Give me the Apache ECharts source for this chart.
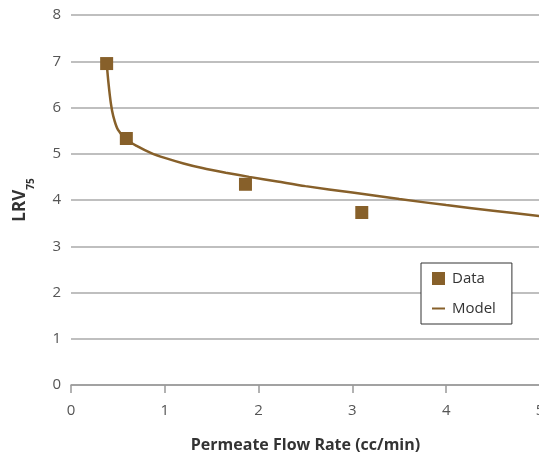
<!DOCTYPE html>
<html>
<head>
<meta charset="utf-8">
<script src="https://cdn.jsdelivr.net/npm/echarts@6/dist/echarts.min.js"></script>
<style>
  html, body { margin: 0; padding: 0; background: #ffffff; }
  #chart { width: 539px; height: 456px; }
</style>
</head>
<body>
<div id="chart"></div>
<script>
// Measured log reduction values against permeate flow rate
const dataFlow = [0.38, 0.59, 1.86, 3.10];
const dataLRV = [6.95, 5.33, 4.34, 3.73];

// Fitted model curve
const modelFlow = [0.38, 0.40, 0.425, 0.45, 0.50, 0.59, 0.70, 0.85, 1.0, 1.2, 1.4, 1.65, 1.9, 2.2, 2.5, 3.0, 3.5, 4.0, 4.5, 5.0];
const modelLRV = [6.97, 6.52, 6.09, 5.82, 5.52, 5.31, 5.17, 5.02, 4.91, 4.79, 4.69, 4.59, 4.50, 4.40, 4.30, 4.16, 4.02, 3.89, 3.77, 3.65];

const xTicks = [0, 1, 2, 3, 4, 5];
const yTicks = [0, 1, 2, 3, 4, 5, 6, 7, 8];

const brown = '#87602a';
const font = '"Open Sans", "Noto Sans", sans-serif';

const zip = (xs, ys) => xs.map((x, i) => [x, ys[i]]);

const chart = echarts.init(document.getElementById('chart'), null, { renderer: 'canvas' });
chart.setOption({
  animation: false,
  backgroundColor: '#ffffff',
  grid: { left: 71, top: 15, width: 469, height: 370, containLabel: false, outerBoundsMode: 'none' },
  xAxis: {
    type: 'value',
    min: xTicks[0],
    max: xTicks[xTicks.length - 1],
    interval: 1,
    name: 'Permeate Flow Rate (cc/min)',
    nameLocation: 'middle',
    nameGap: 52,
    nameTextStyle: { fontFamily: font, fontSize: 16, fontWeight: 'bold', color: '#333' },
    axisLine: { show: true, lineStyle: { color: '#999', width: 1.5 } },
    axisTick: { show: true, length: 8, lineStyle: { color: '#999', width: 1.5 } },
    axisLabel: { margin: 18, fontFamily: font, fontSize: 15, color: '#555' },
    splitLine: { show: false }
  },
  yAxis: {
    type: 'value',
    min: yTicks[0],
    max: yTicks[yTicks.length - 1],
    interval: 1,
    name: '{a|LRV}{b|75}',
    nameLocation: 'middle',
    nameRotate: 90,
    nameGap: 21,
    nameMoveOverlap: false,
    nameTextStyle: {
      rich: {
        a: { fontFamily: font, fontSize: 17, fontWeight: 'bold', color: '#333', lineHeight: 18, verticalAlign: 'top' },
        b: { fontFamily: font, fontSize: 10, fontWeight: 'bold', color: '#333', lineHeight: 38 }
      }
    },
    axisLine: { show: false },
    axisTick: { show: false },
    axisLabel: { margin: 10, fontFamily: font, fontSize: 15, color: '#555' },
    splitLine: { show: true, lineStyle: { color: '#aaaaaa', width: 1.5 } }
  },
  legend: {
    orient: 'vertical',
    left: 421,
    top: 263,
    padding: [8, 16, 8, 10],
    itemGap: 15,
    itemWidth: 13,
    itemHeight: 13,
    backgroundColor: '#ffffff',
    borderColor: '#333',
    borderWidth: 1,
    borderRadius: 0,
    textStyle: { fontFamily: font, fontSize: 15, color: '#333', padding: [0, 0, 0, 2] },
    data: [
      { name: 'Data', icon: 'rect' },
      { name: 'Model', itemStyle: { opacity: 0 } }
    ]
  },
  series: [
    {
      name: 'Model',
      type: 'line',
      data: zip(modelFlow, modelLRV),
      smooth: 0.3,
      showSymbol: false,
      symbol: 'none',
      lineStyle: { color: brown, width: 2.5 },
      itemStyle: { color: brown },
      z: 2
    },
    {
      name: 'Data',
      type: 'scatter',
      data: zip(dataFlow, dataLRV),
      symbol: 'rect',
      symbolSize: 13,
      itemStyle: { color: brown, opacity: 1 },
      z: 3
    }
  ]
});
</script>
</body>
</html>
